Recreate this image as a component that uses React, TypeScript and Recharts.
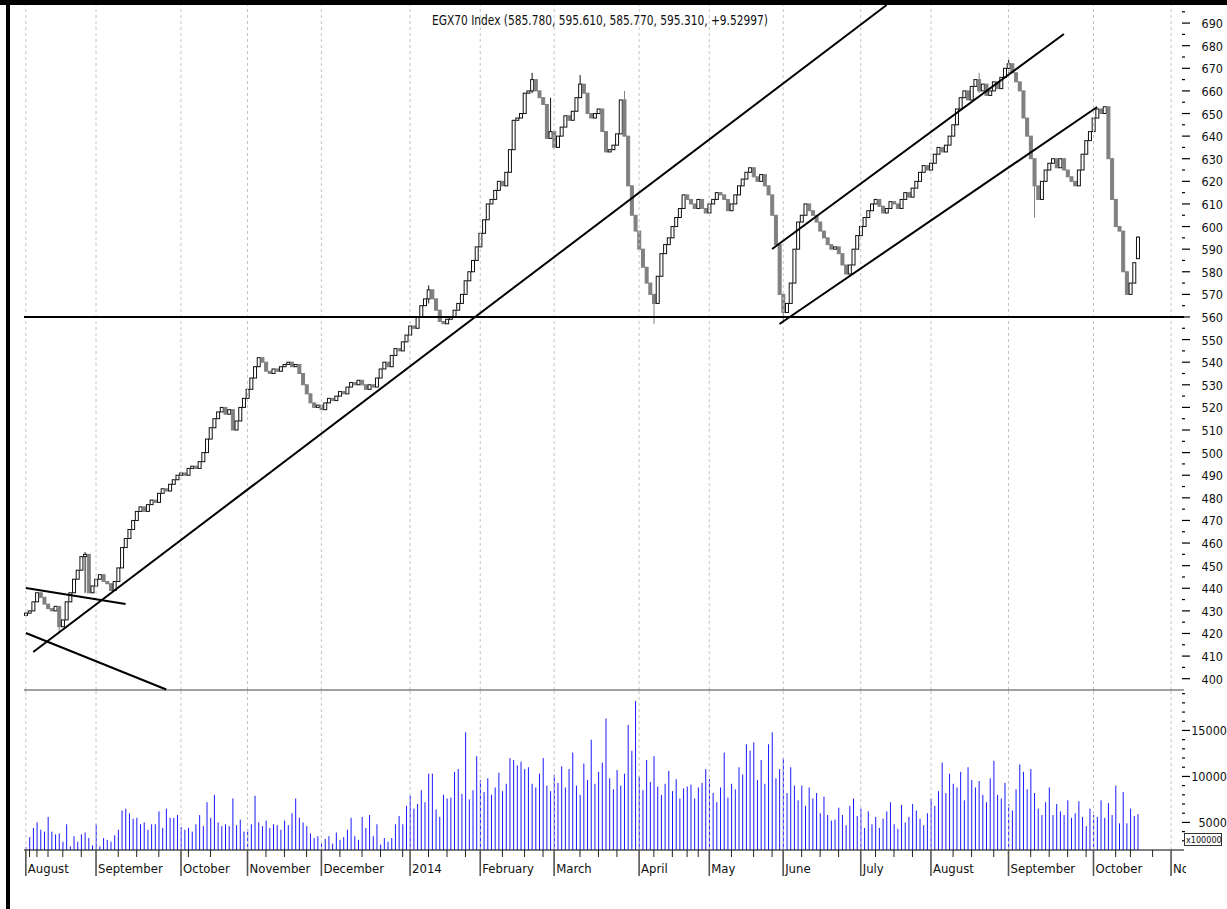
import React from 'react';
import { ComposedChart, Bar, XAxis, YAxis, ReferenceLine } from 'recharts';

const NARROW = "'Liberation Sans Narrow', 'Arial Narrow', 'DejaVu Sans Condensed', sans-serif";

// closing prices, one per trading day (Aug 2013 - Oct 2014)
const closes: number[] = [
  429, 430, 434, 438, 436, 433, 431, 430, 432, 423,
  426, 434, 438, 444, 448, 454, 455, 438, 441, 444,
  446, 443, 442, 439, 443, 449, 458, 462, 466, 470,
  474, 476, 474, 477, 479, 478, 482, 484, 483, 486,
  488, 490, 491, 490, 493, 494, 493, 496, 500, 506,
  511, 515, 518, 520, 517, 519, 510, 514, 520, 524,
  528, 533, 538, 542, 540, 536, 535, 537, 536, 538,
  539, 540, 538, 539, 535, 530, 526, 522, 520, 521,
  519, 522, 524, 523, 525, 527, 526, 529, 531, 530,
  532, 530, 528, 530, 529, 533, 537, 540, 538, 543,
  546, 545, 549, 552, 556, 555, 560, 565, 568, 572,
  568, 563, 558, 557, 559, 560, 563, 566, 570, 576,
  580, 585, 591, 597, 603, 610, 612, 616, 620, 618,
  624, 634, 647, 648, 650, 659, 660, 665, 660, 657,
  654, 639, 642, 635, 640, 644, 649, 647, 651, 657,
  663, 659, 650, 648, 650, 652, 642, 633, 634, 636,
  641, 656, 640, 618, 605, 598, 590, 582, 575, 570,
  566, 578, 588, 592, 595, 600, 604, 608, 614, 612,
  610, 608, 612, 608, 606, 610, 612, 615, 614, 612,
  607, 610, 614, 618, 621, 624, 626, 622, 620, 623,
  618, 614, 605, 592, 570, 562, 566, 575, 590, 602,
  605, 610, 607, 605, 602, 598, 595, 592, 590, 591,
  588, 583, 579, 583, 590, 596, 600, 604, 607, 610,
  612, 609, 606, 608, 611, 610, 608, 612, 615, 613,
  617, 620, 624, 627, 625, 628, 632, 635, 633, 636,
  640, 645, 652, 657, 660, 656, 662, 665, 660, 663,
  658, 660, 664, 661, 666, 670, 672, 668, 664, 660,
  648, 640, 630, 618, 612, 620, 625, 628, 630, 626,
  630, 625, 622, 620, 618, 625, 632, 638, 642, 648,
  652, 650, 653, 630, 612, 600, 598, 580, 570, 575,
  584, 595.31,
];

// volume, in units of 100000
const volumes: number[] = [
  2300, 3400, 4400, 5000, 4200, 4000, 5600, 4000, 3700, 3800,
  2900, 4800, 2400, 3500, 2900, 3700, 3900, 3300, 2500, 4800,
  2400, 3300, 3100, 2900, 3600, 4200, 6300, 6500, 6000, 5400,
  5500, 4800, 5000, 4200, 4800, 4800, 6200, 4400, 6500, 5500,
  5500, 5800, 4500, 4200, 4400, 4000, 4800, 5800, 4600, 7200,
  5500, 8000, 5000, 4600, 4800, 4600, 7600, 4700, 5300, 4000,
  4300, 4800, 7900, 5000, 4600, 5200, 4400, 4800, 4700, 4200,
  5200, 4700, 6000, 7600, 5500, 5000, 4600, 3800, 3300, 3500,
  2800, 3200, 3500, 2700, 3900, 3100, 3400, 4200, 5500, 3500,
  3100, 5600, 4400, 5800, 3500, 4800, 2600, 3300, 2900, 3300,
  4800, 5700, 4800, 6800, 7900, 6500, 7000, 8500, 7200, 10300,
  10300, 6400, 5600, 8000, 7600, 7700, 10500, 10800, 8100, 14800,
  7500, 8500, 12200, 9600, 8300, 9800, 8000, 8800, 10400, 8400,
  9200, 12000, 11800, 11200, 11600, 10800, 11000, 9200, 8800, 10300,
  12000, 9000, 8400, 10200, 9300, 11100, 8800, 10800, 12600, 9000,
  8000, 11400, 9600, 14000, 9200, 10500, 11500, 16300, 9800, 8600,
  10700, 9000, 10300, 15600, 12800, 18200, 10000, 8500, 11800, 9400,
  12200, 8900, 8000, 9200, 10600, 8400, 9700, 7600, 8700, 8900,
  9100, 7600, 8800, 9300, 10800, 9700, 8200, 7200, 8800, 12600,
  7700, 9200, 8600, 11000, 10200, 13500, 12800, 13700, 9600, 11800,
  9200, 13500, 14800, 9800, 10800, 12000, 8200, 11000, 9000, 7400,
  9000, 6800, 8800, 7600, 8200, 6000, 7800, 5800, 5200, 5300,
  6600, 5800, 4700, 6800, 7600, 5700, 6500, 4400, 6200, 4800,
  5600, 4400, 5400, 6200, 7200, 4800, 4300, 6900, 5000, 5600,
  7000, 6300, 5400, 4700, 6000, 7600, 6800, 8400, 11500, 8200,
  10300, 9200, 8800, 10500, 7400, 11000, 9600, 8800, 9500, 8000,
  7200, 9800, 11700, 8000, 7600, 9300, 7000, 6300, 8600, 11300,
  10500, 8600, 10800, 8200, 6500, 5800, 7200, 8800, 5800, 7000,
  6200, 5800, 7400, 5500, 6000, 7300, 5600, 4600, 6500, 5800,
  5600, 7400, 5500, 7100, 5800, 9000, 4900, 8300, 4900, 6500,
  5700, 5900,
];

const firstOpen = 428;
// [day index, open] where the open is not the previous close
const openGaps: [number, number][] = [[301, 585.78]];
// [day index, high, low] for visible shadows
const shadows: [number, number, number][] = [
  [9, 432, 420], [16, 456, 438], [109, 574, 566], [137, 668, 659], [142, 657, 639],
  [150, 667, 657], [162, 660, 640], [170, 570, 557], [205, 570, 558], [258, 668, 659],
  [266, 674, 668], [273, 622, 604], [301, 595.61, 585.77],
];

const TOTAL_SLOTS = 314;
const monthTickIdx = [0, 19, 42, 60, 80, 104, 123, 143, 166, 185, 205, 226, 245, 266, 289, 310];
const monthLabels = ['August', 'September', 'October', 'November', 'December', '2014', 'February', 'March',
  'April', 'May', 'June', 'July', 'August', 'September', 'October', 'November'];
const weekTickIdx = [1, 3, 6, 10, 15, 25, 30, 36, 44, 50, 65, 70, 76, 85, 91, 96, 102, 109, 114, 119,
  129, 135, 140, 150, 155, 160, 170, 175, 179, 182, 191, 197, 202, 210, 215, 220, 230, 235, 240,
  251, 256, 262, 272, 277, 282, 287, 295, 299, 305];
const priceMajor = [400, 410, 420, 430, 440, 450, 460, 470, 480, 490, 500, 510, 520, 530, 540, 550,
  560, 570, 580, 590, 600, 610, 620, 630, 640, 650, 660, 670, 680, 690];
const priceMinor = [405, 415, 425, 435, 445, 455, 465, 475, 485, 495, 505, 515, 525, 535, 545, 555,
  565, 575, 585, 595, 605, 615, 625, 635, 645, 655, 665, 675, 685, 695];
const volMajor = [5000, 10000, 15000];
const volMinor = [3000, 4000, 6000, 7000, 8000, 9000, 11000, 12000, 13000, 14000, 16000, 17000, 18000, 19000];

// trend lines: [[day, price], [day, price]]
const trendLines: [[number, number], [number, number]][] = [
  [[2, 411.8], [233, 698]],
  [[0, 440.1], [27, 433]],
  [[0, 420.2], [38, 395.2]],
  [[202, 590.1], [281, 685.2]],
  [[204, 556.9], [290, 652.9]],
];
const supportLevel = 560;
const priceFloor = 395;
const titleText = 'EGX70 Index (585.780, 595.610, 585.770, 595.310, +9.52997)';

const rows = Array.from({ length: TOTAL_SLOTS }, (_, i) => {
  if (i >= closes.length) return { i };
  const c = closes[i];
  const gap = openGaps.find((g) => g[0] === i);
  const o = gap ? gap[1] : i === 0 ? firstOpen : closes[i - 1];
  const s = shadows.find((g) => g[0] === i);
  const h = Math.max(o, c, s ? s[1] : -Infinity);
  const l = Math.min(o, c, s ? s[2] : Infinity);
  return { i, o, h, l, c, v: volumes[i], range: [l, h] };
});

const Candle = (props: any) => {
  const { x, y, width, height, payload } = props;
  if (!payload || payload.c == null || x == null) return <g />;
  const { o, c, h, l } = payload;
  const cx = x + width / 2;
  const up = c >= o;
  const col = up ? '#111' : '#808080';
  const span = h - l;
  const k = span > 0 ? height / span : 0;
  const yO = y + (h - o) * k;
  const yC = y + (h - c) * k;
  const top = Math.min(yO, yC);
  const bh = Math.max(Math.abs(yO - yC), 0.8);
  return (
    <g>
      <line x1={cx} x2={cx} y1={y} y2={y + height} stroke={col} strokeWidth={1} />
      <rect x={cx - 1.5} y={top} width={3} height={bh} fill={up ? '#fff' : '#808080'} stroke={col} strokeWidth={1} />
    </g>
  );
};

const VolBar = (props: any) => {
  const { x, y, width, height, payload } = props;
  if (!payload || payload.v == null || x == null) return <g />;
  const cx = x + width / 2;
  return <rect x={cx - 0.5} y={y} width={1} height={Math.max(height, 0)} fill="#1a1aff" />;
};

const PriceTick = (props: any) => {
  const { x, y, payload } = props;
  const v = payload.value;
  const major = priceMajor.includes(v);
  return (
    <g>
      <line x1={x - 2} x2={x + (major ? 6 : 1)} y1={y} y2={y} stroke="#000" strokeWidth={1.2} />
      {major && (
        <text x={x + 39} y={y + 5} textAnchor="end" fontSize={12.5} fill="#111" fontFamily={NARROW}>
          {v}
        </text>
      )}
    </g>
  );
};

const VolTick = (props: any) => {
  const { x, y, payload } = props;
  const v = payload.value;
  const major = volMajor.includes(v);
  return (
    <g>
      <line x1={x - 2} x2={x + (major ? 6 : 1)} y1={y} y2={y} stroke="#000" strokeWidth={1.2} />
      {major && (
        <text x={x + 43} y={y + 5} textAnchor="end" fontSize={12.5} fill="#111" fontFamily={NARROW}>
          {v}
        </text>
      )}
    </g>
  );
};

const DateTick = (props: any) => {
  const { x, y, payload } = props;
  const idx = payload.value;
  const mi = monthTickIdx.indexOf(idx);
  if (mi >= 0) {
    const label = monthLabels[mi];
    const last = mi === monthTickIdx.length - 1;
    return (
      <g>
        <line x1={x} x2={x} y1={y} y2={y + 26} stroke="#555" strokeWidth={1.6} />
        {last ? (
          <svg x={x + 2} y={y} width={13} height={30} overflow="hidden">
            <text x={0} y={23} fontSize={13} fill="#111" fontFamily={NARROW}>{label}</text>
          </svg>
        ) : (
          <text x={x + 2} y={y + 23} fontSize={13} fill="#111" fontFamily={NARROW}>{label}</text>
        )}
      </g>
    );
  }
  if (weekTickIdx.includes(idx)) {
    return <line x1={x} x2={x} y1={y} y2={y + 7} stroke="#222" strokeWidth={1} />;
  }
  return <g />;
};

const gridLines = (keyPrefix: string) =>
  monthTickIdx.map((m) => (
    <ReferenceLine key={keyPrefix + m} x={m} stroke="#c4c4c4" strokeDasharray="3 3" strokeWidth={1} ifOverflow="visible" />
  ));

export default function App() {
  return (
    <div style={{ position: 'relative', width: 1227, height: 909, background: '#fff', overflow: 'hidden' }}>
      <style>{'body{margin:0;}'}</style>
      <div style={{ position: 'absolute', left: 0, top: 0 }}>
        <ComposedChart width={1227} height={700} data={rows} margin={{ top: 5, right: 0, bottom: 10, left: 24 }}
          barCategoryGap={0} barGap={0}>
          <XAxis dataKey="i" type="category" hide />
          <YAxis orientation="right" width={43} type="number" domain={[395, 698]} allowDataOverflow
            ticks={[...priceMajor, ...priceMinor]} interval={0} tick={<PriceTick />} tickLine={false}
            axisLine={false} tickSize={0} tickMargin={0} />
          {gridLines('p')}
          <Bar dataKey="range" shape={(p: any) => <Candle {...p} />} isAnimationActive={false} />
          <ReferenceLine y={supportLevel} stroke="#000" strokeWidth={2} />
          <ReferenceLine y={priceFloor} stroke="#444" strokeWidth={1.2} ifOverflow="visible" />
          {trendLines.map((t, k) => (
            <ReferenceLine key={'t' + k} segment={[{ x: t[0][0], y: t[0][1] }, { x: t[1][0], y: t[1][1] }]}
              stroke="#000" strokeWidth={2} ifOverflow="visible" />
          ))}
        </ComposedChart>
      </div>
      <div style={{ position: 'absolute', left: 0, top: 690 }}>
        <ComposedChart width={1227} height={219} data={rows} margin={{ top: 0, right: 0, bottom: 29, left: 24 }}
          barCategoryGap={0} barGap={0}>
          <XAxis dataKey="i" type="category" height={30} interval={0} tick={<DateTick />} tickLine={false}
            tickSize={0} tickMargin={0} axisLine={{ stroke: '#000' }} />
          <YAxis orientation="right" width={43} type="number" domain={[2000, 19400]} allowDataOverflow
            ticks={[...volMajor, ...volMinor]} interval={0} tick={<VolTick />} tickLine={false}
            axisLine={false} tickSize={0} tickMargin={0} />
          {gridLines('v')}
          <Bar dataKey="v" shape={(p: any) => <VolBar {...p} />} isAnimationActive={false} />
        </ComposedChart>
      </div>
      <svg width={1227} height={909} style={{ position: 'absolute', left: 0, top: 0, pointerEvents: 'none' }}>
        <rect x={0} y={0} width={1227} height={5} fill="#000" />
        <rect x={6} y={0} width={4} height={909} fill="#000" />
        <text x={600} y={25} textAnchor="middle" fontSize={14} fill="#111" fontFamily={NARROW}
          textLength={336} lengthAdjust="spacingAndGlyphs">{titleText}</text>
        <rect x={1184.5} y={833.5} width={37} height={12} fill="#fff" stroke="#333" strokeWidth={1} />
        <text x={1186} y={843} fontSize={9} fill="#111" fontFamily={NARROW}>x100000</text>
      </svg>
    </div>
  );
}
